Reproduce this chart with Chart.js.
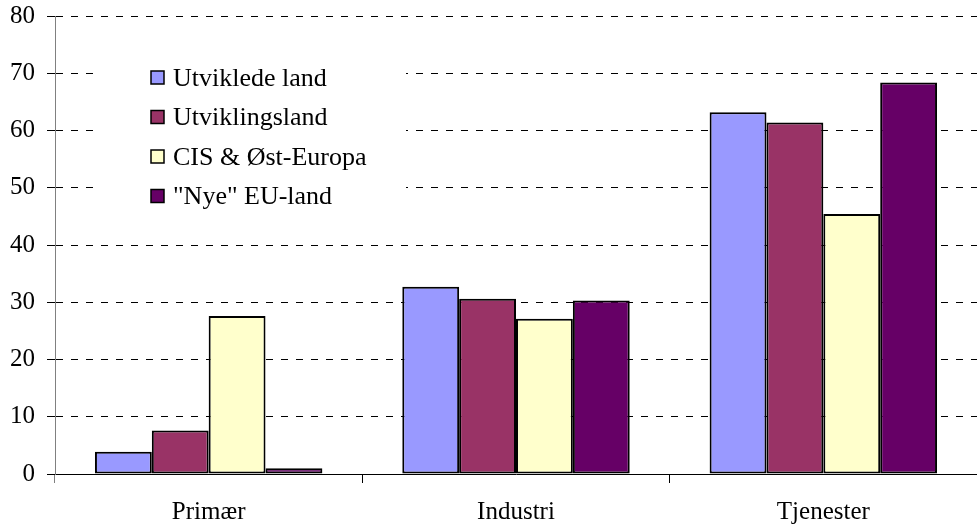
<!DOCTYPE html>
<html>
<head>
<meta charset="utf-8">
<script src="https://cdn.jsdelivr.net/npm/chart.js@4.4.1/dist/chart.umd.min.js"></script>
<style>
  html, body { margin: 0; padding: 0; background: #fff; }
  #wrap { width: 977px; height: 527px; position: relative; }
</style>
</head>
<body>
<div id="wrap"><canvas id="myChart"></canvas></div>
<script>
const categories = ['Primær', 'Industri', 'Tjenester'];
const seriesNames = ['Utviklede land', 'Utviklingsland', 'CIS & Øst-Europa', '"Nye" EU-land'];
const utviklede = [3.9, 32.7, 63.2];
const utviklings = [7.6, 30.6, 61.4];
const cisOstEuropa = [27.6, 27.1, 45.4];
const nyeEU = [1.0, 30.3, 68.4];
const yTicks = [0, 10, 20, 30, 40, 50, 60, 70, 80];

const colors = ['#9999ff', '#993366', '#ffffcc', '#660066'];
const font = "'Liberation Serif', 'Times New Roman', serif";

const values = [utviklede, utviklings, cisOstEuropa, nyeEU];

// legend drawn inside the plot, on a white box that hides the grid
const insideLegend = {
    id: 'insideLegend',
    afterDraw(chart) {
        const ctx = chart.ctx;
        ctx.save();
        ctx.fillStyle = '#fff';
        ctx.fillRect(93, 40, 313, 185);
        ctx.font = '26px ' + font;
        ctx.textBaseline = 'middle';
        chart.data.datasets.forEach((ds, i) => {
            const y = 78 + i * 39.5;
            ctx.fillStyle = ds.backgroundColor;
            ctx.fillRect(151, y - 7, 13, 13);
            ctx.strokeStyle = '#000';
            ctx.lineWidth = 1.5;
            ctx.strokeRect(151, y - 7, 13, 13);
            ctx.fillStyle = '#000';
            ctx.fillText(ds.label, 173, y + 1);
        });
        ctx.restore();
    }
};

const data = {
    labels: categories,
    datasets: seriesNames.map((name, i) => ({
        label: name,
        data: values[i],
        backgroundColor: colors[i],
        borderColor: '#000',
        borderWidth: 2,
        borderSkipped: false
    }))
};

const config = {
    type: 'bar',
    data: data,
    options: {
        responsive: true,
        maintainAspectRatio: false,
        animation: false,
        layout: { padding: { top: 16, left: 0, right: 0, bottom: 0 } },
        datasets: {
            bar: { categoryPercentage: 0.74, barPercentage: 1 }
        },
        scales: {
            x: {
                afterFit(scale) {
                    scale.height = 53;
                    scale.paddingLeft = 0;
                    scale.paddingRight = 0;
                },
                grid: {
                    offset: true,
                    drawOnChartArea: false,
                    tickLength: 9,
                    color: (c) => c.index === 0 ? '#808080' : '#000'
                },
                border: { color: '#000', width: 1 },
                ticks: {
                    color: '#000',
                    padding: 14,
                    font: { family: font, size: 25 }
                }
            },
            y: {
                min: 0,
                max: 80,
                afterFit(scale) {
                    scale.width = 55;
                    scale.paddingTop = 0;
                    scale.paddingBottom = 0;
                },
                afterBuildTicks(scale) { scale.ticks = yTicks.map(v => ({ value: v })); },
                grid: { color: '#000', lineWidth: 1, tickLength: 8 },
                border: { color: '#808080', width: 1, dash: [7, 8] },
                ticks: {
                    color: '#000',
                    padding: 12,
                    font: { family: font, size: 25 }
                }
            }
        },
        plugins: {
            legend: { display: false },
            tooltip: { enabled: false }
        }
    },
    plugins: [insideLegend]
};

const chart = new Chart(document.getElementById('myChart'), config);
</script>
</body>
</html>
